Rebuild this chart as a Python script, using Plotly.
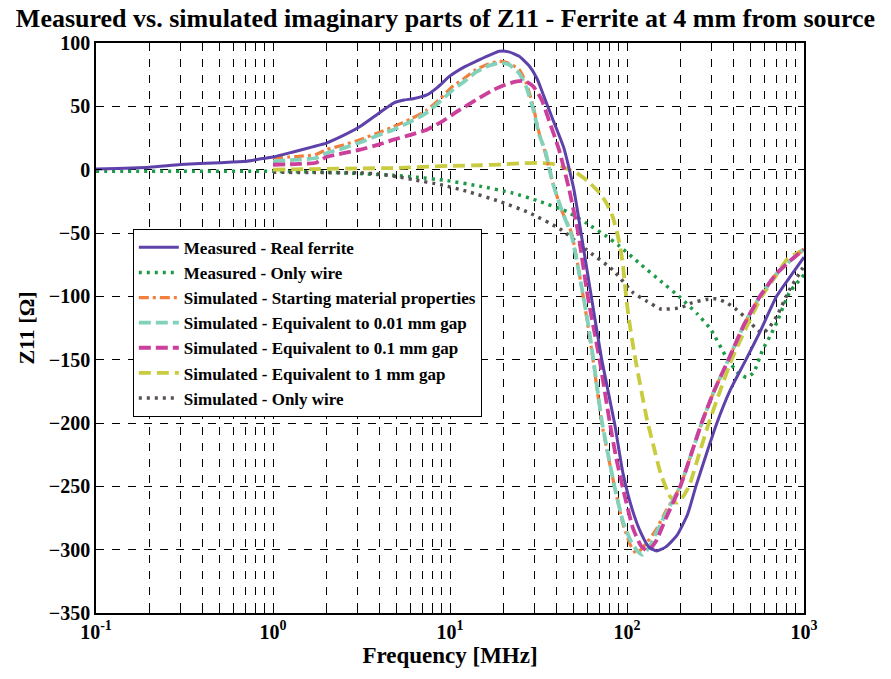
import plotly.graph_objects as go

# ---------------- data ----------------
meas_ferrite_f = [0.1, 0.2, 0.3, 0.5, 0.7, 0.84, 1.0, 1.3, 1.67, 2.0, 2.5, 3.1, 4.0, 4.8, 5.5, 6.2, 7.4, 8.5, 10,
                  12, 14, 16.5, 19, 21.5, 24.6, 28, 31, 33.5, 38, 44, 50, 55, 62, 72, 85, 95, 108, 120, 133, 147,
                  165, 191, 220, 245, 280, 322, 380, 470, 564, 700, 830, 1000]
meas_ferrite_z = [0.5, 2, 4, 5.5, 6.6, 8.4, 10, 14, 18, 21, 27, 34, 45, 52.6, 55, 56, 59, 65, 74,
                  81, 85.5, 90, 93.5, 93, 89.5, 82, 72, 60, 40, 17, -15, -50, -95, -150, -200, -240, -270, -287, -298, -301,
                  -298, -289, -272, -250, -225, -200, -175, -150, -128, -100, -85, -69]

meas_wire_f = [0.1, 0.3, 1.0, 2.0, 3.0, 4.8, 6.5, 9.5, 14.7, 22.5, 32, 45.6, 58.7, 76.6, 91, 120, 155, 200, 250,
               297, 364, 420, 474, 520, 585, 640, 700, 827, 1000]
meas_wire_z = [-1.3, -1.3, -1.3, -2, -3, -4.5, -6, -8.5, -13, -18.4, -25, -33, -42, -52.6, -60.5, -75, -88, -101,
               -114, -126, -148, -160, -164, -160, -142, -132, -121, -97, -83]

sim_start_f = [1.0, 1.4, 1.75, 2.0, 2.5, 3.1, 4.0, 4.8, 6.0, 7.4, 8.8, 10.4, 12, 14, 16.5, 19, 21.5, 24.6, 27,
               29.5, 32, 34.4, 38, 43, 48.6, 55, 60, 64.3, 68, 72, 78, 85, 95, 105, 113, 120, 130, 145, 165, 200,
               230, 264, 310, 374, 460, 564, 700, 850, 1000]
sim_start_z = [9.2, 10.5, 12, 15.8, 19.5, 23.7, 29.5, 34, 40, 47, 56, 66, 72, 79, 83.5, 85.5, 84, 79, 68,
               50, 28, 14, -10, -33, -50, -90, -122, -150, -175, -200, -225, -250, -280, -297, -303, -300, -294,
               -285, -270, -250, -225, -200, -175, -150, -122, -100, -82, -71, -63]

sim_001_f = [1.0, 1.4, 1.75, 2.0, 2.5, 3.1, 4.0, 4.8, 6.0, 7.4, 8.8, 10.4, 12, 14, 16.5, 19, 21.5, 24.6, 27,
             29.5, 32, 34.4, 38, 43, 48.6, 55, 60, 64.3, 68, 72, 78, 85, 95, 105, 113, 122, 132, 145, 165, 200,
             230, 264, 310, 374, 460, 564, 700, 850, 1000]
sim_001_z = [6.6, 8, 9.2, 13, 17, 21.5, 27.5, 31.6, 38, 45, 54, 63, 69.5, 77, 82, 84.2, 83, 76, 65,
             48, 27, 15.8, -10, -33, -52, -90, -120, -148, -173, -198, -224, -250, -278, -293, -300, -304, -299,
             -288, -272, -250, -225, -200, -175, -150, -122, -100, -82, -71, -63]

sim_01_f = [1.0, 1.4, 1.75, 2.0, 2.5, 3.1, 4.0, 4.8, 6.0, 7.4, 9, 11.4, 14, 17.6, 20, 23.8, 26.5, 29.5, 33, 36,
            41.3, 47, 53, 60, 70, 80, 87, 95, 108, 120, 131, 145, 165, 200, 230, 264, 310, 374, 460, 564, 700,
            850, 1000]
sim_01_z = [3.9, 4.5, 5.5, 10, 13, 15.8, 20, 23.7, 27.5, 31.6, 38, 47.4, 55, 63, 66.5, 69.7, 70, 65.8, 55, 40,
            15.8, -15, -50, -100, -150, -200, -228, -252, -283, -297, -301, -294, -276, -250, -225, -200, -175,
            -150, -122, -100, -82, -71, -63]

sim_1_f = [1.0, 1.75, 3.0, 4.8, 10, 15, 19, 25, 31, 36.5, 42, 47, 52, 60, 70, 77, 83, 88, 92, 95, 98, 102, 110,
           118, 130, 140, 155, 175, 191, 205, 224, 255, 290, 335, 390, 470, 577, 700, 800, 1000]
sim_1_z = [0, 0.5, 1, 1.3, 3, 3.5, 4, 5, 5.3, 5, 3, 0, -2.6, -9, -18.4, -27, -37, -50, -63, -76, -95, -116, -145,
           -168, -198, -216, -240, -258, -263, -259, -250, -225, -200, -175, -150, -125, -100, -83, -71, -63]

sim_wire_f = [1.0, 1.75, 3.0, 4.0, 5.0, 6.2, 8.8, 12.4, 19, 28, 42, 58.7, 83, 108, 130, 155, 200, 234, 280, 320,
              365, 416, 460, 500, 540, 585, 640, 700, 827, 970, 1000]
sim_wire_z = [-2, -2.3, -2.5, -3.5, -5.5, -7.9, -11.8, -17, -25, -34, -47, -63, -79, -97, -104, -110, -109, -105,
              -102.5, -102, -105, -110.5, -116, -121, -126, -129, -124, -116, -95, -79, -76]

series_names = ["Measured - Real ferrite", "Measured - Only wire", "Simulated - Starting material properties",
                "Simulated - Equivalent to 0.01 mm gap", "Simulated - Equivalent to 0.1 mm gap",
                "Simulated - Equivalent to 1 mm gap", "Simulated - Only wire"]

x_tick_vals = [0.1, 1, 10, 100, 1000]
x_tick_text = ["10<sup>-1</sup>", "10<sup>0</sup>", "10<sup>1</sup>", "10<sup>2</sup>", "10<sup>3</sup>"]
y_tick_vals = [100, 50, 0, -50, -100, -150, -200, -250, -300, -350]

# ---------------- styling ----------------
FONT = "Liberation Serif, Times New Roman, serif"
styles = [
    dict(color="#5E42AA", dash="solid", width=3),
    dict(color="#1F9A48", dash="3px,5px", width=3.5),
    dict(color="#F37F3C", dash="10px,4px,3px,4px", width=3.2),
    dict(color="#82D1BA", dash="12px,5px", width=3.8),
    dict(color="#CC3F9B", dash="12px,5px", width=3.8),
    dict(color="#C9CC3F", dash="12px,6px", width=3.8),
    dict(color="#575050", dash="3px,5px", width=3.5),
]
data_pairs = [(meas_ferrite_f, meas_ferrite_z), (meas_wire_f, meas_wire_z), (sim_start_f, sim_start_z),
              (sim_001_f, sim_001_z), (sim_01_f, sim_01_z), (sim_1_f, sim_1_z), (sim_wire_f, sim_wire_z)]

order = [1, 6, 5, 2, 3, 4, 0]
fig = go.Figure()
for i in order:
    xs, ys = data_pairs[i]
    fig.add_trace(go.Scatter(x=xs, y=ys, mode="lines", name=series_names[i],
                             line=dict(shape="spline", smoothing=0.5, **styles[i]),
                             legendrank=i + 1))

minor_vals = [k * 10 ** e for e in range(-1, 3) for k in range(2, 10)]

fig.update_layout(
    width=891, height=679,
    margin=dict(l=96, r=87, t=43, b=66),
    paper_bgcolor="white", plot_bgcolor="white",
    font=dict(family=FONT, color="black", size=20, weight="bold"),
    title=dict(text="Measured vs. simulated imaginary parts of Z11 - Ferrite at 4 mm from source",
               x=0.5, xanchor="center", y=1 - 18 / 679, yanchor="middle", yref="container",
               font=dict(family=FONT, size=26, weight="bold", color="black")),
    showlegend=True,
    legend=dict(x=0.052, y=0.674, xanchor="left", yanchor="top", xref="paper", yref="paper",
                bgcolor="white", bordercolor="black", borderwidth=1,
                font=dict(family=FONT, size=17, weight="bold", color="black"),
                tracegroupgap=0, itemwidth=40),
)
fig.update_xaxes(
    type="log", range=[-1, 3], automargin=False,
    tickvals=x_tick_vals, ticktext=x_tick_text,
    showgrid=True, gridcolor="black", griddash="8px,8px", gridwidth=0.7,
    minor=dict(tickvals=minor_vals, showgrid=True, gridcolor="black", griddash="8px,8px", gridwidth=0.7,
               ticks="inside", ticklen=4, tickcolor="black"),
    ticks="inside", ticklen=6, tickcolor="black",
    showline=True, linecolor="black", linewidth=1.5, mirror="allticks",
    zeroline=False,
    title=dict(text="Frequency [MHz]", font=dict(family=FONT, size=23, weight="bold"), standoff=4),
    tickfont=dict(family=FONT, size=20, weight="bold"),
)
fig.update_yaxes(
    range=[-350, 100], tickvals=y_tick_vals, automargin=False,
    showgrid=True, gridcolor="black", griddash="8px,8px", gridwidth=0.7,
    ticks="inside", ticklen=6, tickcolor="black",
    showline=True, linecolor="black", linewidth=1.5, mirror="allticks",
    zeroline=False,
    title=dict(text="Z11 [Ω]", font=dict(family=FONT, size=22, weight="bold"), standoff=8),
    tickfont=dict(family=FONT, size=20, weight="bold"),
)

fig.write_html("out.html")
